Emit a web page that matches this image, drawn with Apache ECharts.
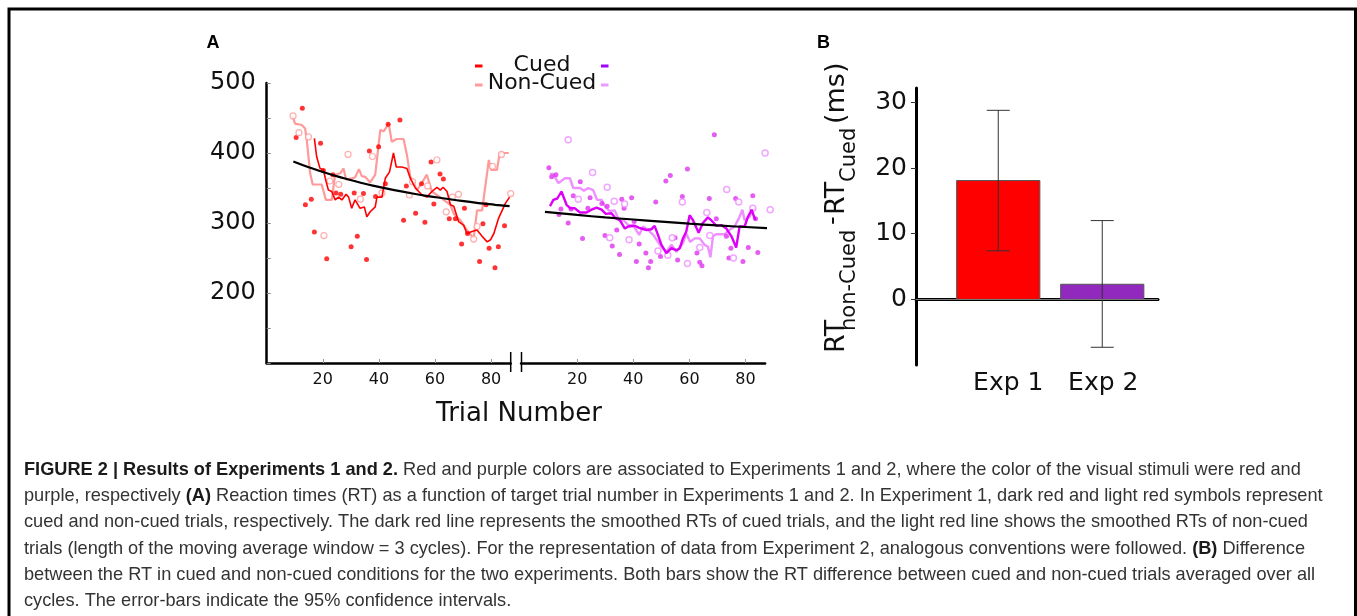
<!DOCTYPE html>
<html>
<head>
<meta charset="utf-8">
<script src="https://cdn.jsdelivr.net/npm/echarts@6/dist/echarts.min.js"></script>
<style>
html,body{margin:0;padding:0;background:#fff;}
#chart{width:1357px;height:616px;}
</style>
</head>
<body>
<div id="chart"></div>
<script>
// ---------- DATA ----------
// Panel A, Experiment 1 (trial number, RT in ms)
const exp1CuedDots = [[10.5,422],[12.7,464],[13.8,326],[15.9,334],[17,287],[19.2,414],[20.2,375],[21.4,249],[23.6,369],[24.7,343],[26.4,341],[30.1,266],[31.2,343],[32.3,281],[34.5,342],[35.6,248],[36.6,403],[38.8,338],[39.9,409],[42.3,356],[43.3,441],[47.5,447],[48.8,304],[49.8,353],[53.1,314],[55.2,356],[56.4,301],[58.6,387],[59.6,327],[61.8,370],[63,363],[65.1,306],[67.3,306],[69.5,270],[70.5,321],[71.6,285],[75.9,245],[77.1,299],[78.2,326],[79.3,264],[81.4,236],[82.6,266],[84.8,296]];
const exp1NonCuedDots = [[9.4,453],[11.5,429],[14.9,423],[20.4,282],[22.5,360],[25.7,355],[29,398],[33.4,334],[37.7,395],[41.1,343],[50.9,340],[52,359],[57.4,353],[60.7,390],[64,316],[66.2,337],[68.4,341],[73.8,277],[75,295],[80.5,381],[83.7,398],[87,342]];
const exp1CuedSmooth = [[17,421],[17.8,395],[19,378],[20.2,376],[21.2,359],[22,347],[23.2,345],[24.4,333],[25.6,337],[26.8,333],[28.3,341],[29.2,337],[30.3,321],[31.5,333],[33.3,321],[34.8,323],[35.7,309],[36.9,316],[38.7,323],[39.3,337],[41.1,337],[42.3,364],[43.8,373],[45.2,400],[46.2,380],[48.2,380],[50,378],[51.2,364],[53,350],[55.4,340],[57.1,337],[58.9,345],[60.7,351],[61.9,347],[62.9,351],[64.3,345],[65.5,326],[66.7,324],[68.4,302],[70.2,297],[71.4,285],[73.2,288],[75,290],[76.8,281],[78.6,273],[79.8,276],[81,285],[82.7,307],[85.1,328],[86.6,337]];
const exp1NonCuedSmooth = [[9.2,453],[10.1,442],[12.5,440],[13.7,435],[14.3,418],[15.5,371],[16.4,355],[19.6,355],[21.1,333],[23.2,333],[24.4,369],[26.2,371],[27.4,378],[28.3,362],[31.5,365],[32.9,377],[33.9,367],[35.1,366],[36.9,358],[38.7,369],[40.5,433],[41.7,431],[43.5,442],[44.6,416],[46.4,420],[48.8,420],[50,397],[51.2,366],[53.6,347],[54.8,354],[57.1,369],[58.9,345],[60.7,340],[63.1,333],[65.5,326],[66.7,313],[69,304],[71.4,290],[73.8,278],[75,318],[76.8,318],[79.2,390],[80,376],[82.1,376],[83.1,400],[86.3,400]];
const exp1Fit = [[9.5,388],[15.5,379],[21.5,371],[27.5,364],[33.5,357.5],[39.5,352],[45.5,347],[51.5,342.5],[57.5,338.5],[63.5,335],[69.5,331.5],[75.5,328.5],[81.5,326],[86.6,324]];

// Panel A, Experiment 2
const exp2CuedDots = [[9.9,379],[10.9,366],[12.4,369],[13.5,312],[14.2,320],[16.8,300],[17.8,320],[18.6,339],[21.1,359],[21.9,278],[23.8,321],[24.6,336],[28.8,328],[29.9,282],[30.7,324],[32.5,267],[34.1,290],[35.1,255],[35.9,334],[36.7,321],[39.4,336],[40.3,302],[41.1,245],[42.1,270],[44.5,257],[45.4,236],[46.2,245],[48,330],[49.7,252],[51.6,360],[53.2,368],[54.9,279],[55.8,247],[57.5,338],[59.3,377],[62.7,257],[63.7,244],[64.5,239],[67.1,335],[68.9,426],[69.6,306],[73.2,281],[74.1,250],[74.8,264],[76.5,335],[79.1,245],[81,265],[82.6,339],[83.6,306],[84.4,258]];
const exp2NonCuedDots = [[16.8,419],[20.4,334],[25.5,372],[30.7,351],[31.6,279],[33.2,331],[36.9,327],[38.5,276],[48.8,260],[52.3,254],[53.9,279],[57.5,330],[59.3,242],[63.7,265],[66.2,315],[67.3,282],[73.3,348],[75.7,250],[77.6,330],[82.6,321],[87,400],[88.8,319]];
const exp2CuedSmooth = [[10.3,324],[11.5,333],[12.9,335],[14.4,345],[16.2,326],[17.6,321],[19.2,321],[21,315],[23.3,315],[25.1,319],[26.9,322],[28.7,319],[30.2,313],[32.2,314],[33.6,307],[35.2,304],[37,292],[38.2,295],[40.6,296],[42.1,293],[44.7,290],[46.4,291],[47.6,296],[48.8,283],[50,269],[51.8,257],[53.6,264],[55.4,261],[56.6,264],[57.7,278],[58.9,288],[60.1,311],[61.3,304],[63.3,286],[64.8,300],[66.6,308],[67.8,304],[69.6,296],[71.4,297],[73.2,292],[75,281],[76.7,265],[77.9,295],[79.7,295],[80.9,309],[82.2,319],[83.3,306],[83.8,306]];
const exp2NonCuedSmooth = [[10.3,370],[11.5,370],[13.3,357],[15.6,364],[17.4,364],[18.6,350],[21,350],[22.4,346],[23.9,350],[25.7,347],[27.1,333],[28.7,333],[30.2,322],[31.6,317],[33.4,318],[34.9,304],[36.6,304],[38.2,297],[39.9,297],[42.1,283],[43.5,295],[45.3,290],[47.1,283],[48.3,276],[50,266],[51.8,259],[53.6,269],[55.4,259],[57.7,271],[58.9,285],[60.3,273],[61.9,278],[63.7,278],[65.4,269],[66.6,266],[67.5,251],[68.4,281],[69.6,284],[72.6,284],[74.3,290],[76.1,295],[77.7,307],[78.9,319],[79.7,304],[81.5,309],[82.6,320],[83.8,319]];
const exp2Fit = [[8.5,316],[20,311.5],[30,308],[40,305],[50,302],[60,299],[70,296.5],[80,294.3],[88,292.5]];

// Panel A axis ticks
const rtTickLabels = [200, 300, 400, 500];
const trialTickLabels = [20, 40, 60, 80];

// Panel B
const expLabels = ['Exp 1', 'Exp 2'];
const expPositions = [1, 2];
const diffMean = [18.1, 2.3];
const ciLow = [7.4, -7.3];
const ciHigh = [28.8, 12.0];
const diffTickLabels = [0, 10, 20, 30];

// ---------- STYLE ----------
const FONT = 'DejaVu Sans';
const CAP_FONT = 'Liberation Sans';
const red = '#ff0000', lightRed = '#ff9a9a';
const mag = '#dd00f6', lightMag = '#ee90ff';
const barColors = ['#ff0000', '#9129be'];

const chart = echarts.init(document.getElementById('chart'), null, {renderer: 'canvas'});

function trialAxis(gi) {
  return {
    type: 'value', gridIndex: gi, min: 0, max: 87, interval: 20,
    axisLine: {show: true, lineStyle: {color: '#000', width: 2.5}},
    axisTick: {show: true, inside: true, length: 4, lineStyle: {color: '#999', width: 1}},
    axisLabel: {
      show: true, fontFamily: FONT, fontSize: 16, color: '#111', margin: 9,
      showMinLabel: false, showMaxLabel: false,
      formatter: v => trialTickLabels.includes(v) ? String(v) : ''
    },
    splitLine: {show: false}
  };
}

const option = {
  animation: false,
  backgroundColor: '#fff',
  grid: [
    {left: 266.7, top: 83, width: 244, height: 280, outerBoundsMode: 'none'},
    {left: 521.1, top: 83, width: 244, height: 280, outerBoundsMode: 'none'},
    {left: 916, top: 88, width: 242, height: 277, outerBoundsMode: 'none'}
  ],
  xAxis: [
    trialAxis(0),
    trialAxis(1),
    {
      type: 'value', gridIndex: 2, min: 0.209, max: 2.536,
      axisLine: {show: true, lineStyle: {color: '#000', width: 3}},
      axisTick: {show: false},
      splitLine: {show: false},
      axisLabel: {
        show: true, customValues: expPositions, color: '#111', margin: 6,
        formatter: v => { const i = expPositions.indexOf(v); return i === 0 ? '{a|' + expLabels[0] + '}' : (i === 1 ? '{b|' + expLabels[1] + '}' : ''); },
        rich: {
          a: {fontFamily: FONT, fontSize: 25, color: '#111', padding: [0, 0, 0, 20]},
          b: {fontFamily: FONT, fontSize: 25, color: '#111', padding: [0, 0, 0, 2]}
        }
      }
    }
  ],
  yAxis: [
    {
      type: 'value', gridIndex: 0, min: 100, max: 500, interval: 50,
      axisLine: {show: true, lineStyle: {color: '#000', width: 2.5}},
      axisTick: {show: true, inside: true, length: 4, lineStyle: {color: '#888', width: 1}},
      axisLabel: {
        fontFamily: FONT, fontSize: 24, color: '#111', margin: 11,
        formatter: v => rtTickLabels.includes(v) ? String(v) : ''
      },
      splitLine: {show: false}
    },
    {type: 'value', gridIndex: 1, min: 100, max: 500, show: false},
    {
      type: 'value', gridIndex: 2, min: -10, max: 32.2, interval: 10,
      axisLine: {show: true, lineStyle: {color: '#000', width: 3}},
      axisTick: {show: true, customValues: diffTickLabels, length: 5, lineStyle: {color: '#333', width: 1}},
      axisLabel: {
        customValues: diffTickLabels, fontFamily: FONT, fontSize: 25, color: '#111', margin: 9,
        formatter: v => String(v)
      },
      splitLine: {show: false}
    }
  ],
  series: [
    // Exp 1
    {type: 'scatter', xAxisIndex: 0, yAxisIndex: 0, data: exp1CuedDots, symbol: 'circle', symbolSize: 5,
      itemStyle: {color: red}, clip: false, z: 3},
    {type: 'scatter', xAxisIndex: 0, yAxisIndex: 0, data: exp1NonCuedDots, symbol: 'circle', symbolSize: 6,
      itemStyle: {color: '#fff', borderColor: lightRed, borderWidth: 1.2}, clip: false, z: 3},
    {type: 'line', xAxisIndex: 0, yAxisIndex: 0, data: exp1NonCuedSmooth, showSymbol: false, symbol: 'none',
      lineStyle: {color: lightRed, width: 2.2}, clip: false, z: 2},
    {type: 'line', xAxisIndex: 0, yAxisIndex: 0, data: exp1CuedSmooth, showSymbol: false, symbol: 'none',
      lineStyle: {color: red, width: 1.6}, clip: false, z: 4},
    {type: 'line', xAxisIndex: 0, yAxisIndex: 0, data: exp1Fit, showSymbol: false, symbol: 'none', smooth: true,
      lineStyle: {color: '#000', width: 2.2}, clip: false, z: 5},
    // Exp 2
    {type: 'scatter', xAxisIndex: 1, yAxisIndex: 1, data: exp2CuedDots, symbol: 'circle', symbolSize: 5,
      itemStyle: {color: '#dd33ee'}, clip: false, z: 3},
    {type: 'scatter', xAxisIndex: 1, yAxisIndex: 1, data: exp2NonCuedDots, symbol: 'circle', symbolSize: 6,
      itemStyle: {color: '#fff', borderColor: lightMag, borderWidth: 1.5}, clip: false, z: 3},
    {type: 'line', xAxisIndex: 1, yAxisIndex: 1, data: exp2NonCuedSmooth, showSymbol: false, symbol: 'none',
      lineStyle: {color: lightMag, width: 2.4}, clip: false, z: 2},
    {type: 'line', xAxisIndex: 1, yAxisIndex: 1, data: exp2CuedSmooth, showSymbol: false, symbol: 'none',
      lineStyle: {color: mag, width: 2.4}, clip: false, z: 4},
    {type: 'line', xAxisIndex: 1, yAxisIndex: 1, data: exp2Fit, showSymbol: false, symbol: 'none', smooth: true,
      lineStyle: {color: '#000', width: 2.2}, clip: false, z: 5},
    // Panel B bars with CI
    {
      type: 'custom', xAxisIndex: 2, yAxisIndex: 2,
      data: expPositions.map((p, i) => [p, diffMean[i], ciLow[i], ciHigh[i]]),
      encode: {x: 0, y: 1},
      clip: false,
      renderItem: function (params, api) {
        const x = api.value(0), v = api.value(1), lo = api.value(2), hi = api.value(3);
        const base = api.coord([x, 0]);
        const top = api.coord([x, v]);
        const bw = api.size([0.8, 0])[0];
        const pLo = api.coord([x, lo]);
        const pHi = api.coord([x, hi]);
        const cap = 11.5;
        return {
          type: 'group',
          children: [
            {type: 'rect', shape: {x: base[0] - bw / 2, y: top[1], width: bw, height: base[1] - top[1]},
              style: {fill: barColors[params.dataIndex], stroke: '#555', lineWidth: 1}},
            {type: 'line', shape: {x1: pLo[0], y1: pLo[1], x2: pHi[0], y2: pHi[1]}, style: {stroke: '#333', lineWidth: 1}},
            {type: 'line', shape: {x1: pLo[0] - cap, y1: pLo[1], x2: pLo[0] + cap, y2: pLo[1]}, style: {stroke: '#333', lineWidth: 1}},
            {type: 'line', shape: {x1: pHi[0] - cap, y1: pHi[1], x2: pHi[0] + cap, y2: pHi[1]}, style: {stroke: '#333', lineWidth: 1}}
          ]
        };
      },
      markLine: {
        silent: true, symbol: 'none', label: {show: false},
        lineStyle: {color: '#777', width: 1.2, type: 'solid'},
        data: [{yAxis: 0}]
      },
      z: 3
    }
  ],
  graphic: []
};

chart.setOption(option);

// ---------- decorations (labels, legend, axis break, caption, frame) ----------
const g = [];
// frame
g.push({type: 'rect', shape: {x: 9, y: 9, width: 1346.5, height: 700}, style: {fill: 'none', stroke: '#000', lineWidth: 3}, z: 10});
// panel letters
g.push({type: 'text', x: 213, y: 43, style: {text: 'A', font: 'bold 18px ' + CAP_FONT, fill: '#000', textAlign: 'center', textVerticalAlign: 'middle'}});
g.push({type: 'text', x: 823.5, y: 43, style: {text: 'B', font: 'bold 18px ' + CAP_FONT, fill: '#000', textAlign: 'center', textVerticalAlign: 'middle'}});
// axis break marks
g.push({type: 'line', shape: {x1: 510.7, y1: 352, x2: 510.7, y2: 372}, style: {stroke: '#000', lineWidth: 1.5}});
g.push({type: 'line', shape: {x1: 521.5, y1: 352, x2: 521.5, y2: 372}, style: {stroke: '#000', lineWidth: 1.5}});
// x axis title panel A
g.push({type: 'text', x: 519, y: 414, style: {text: 'Trial Number', font: '26px ' + FONT, fill: '#111', textAlign: 'center', textVerticalAlign: 'middle'}});
// legend panel A
g.push({type: 'rect', shape: {x: 475, y: 64.5, width: 7.5, height: 3}, style: {fill: red}});
g.push({type: 'rect', shape: {x: 601, y: 64.5, width: 7.5, height: 3}, style: {fill: '#a200ff'}});
g.push({type: 'rect', shape: {x: 475, y: 83.5, width: 7.5, height: 3}, style: {fill: lightRed}});
g.push({type: 'rect', shape: {x: 601, y: 83.5, width: 7.5, height: 3}, style: {fill: '#e89cff'}});
g.push({type: 'text', x: 542, y: 65, style: {text: 'Cued', font: '22px ' + FONT, fill: '#111', textAlign: 'center', textVerticalAlign: 'middle'}});
g.push({type: 'text', x: 542, y: 83, style: {text: 'Non-Cued', font: '22px ' + FONT, fill: '#111', textAlign: 'center', textVerticalAlign: 'middle'}});
// panel B y axis title (rotated, with subscripts)
const yTitle = [
  {t: 'RT', y: 353, x: 837, s: 27},
  {t: 'non-Cued', y: 331, x: 850, s: 21},
  {t: '-', y: 225, x: 834, s: 24},
  {t: 'RT', y: 215, x: 837, s: 27},
  {t: 'Cued', y: 182, x: 850, s: 21},
  {t: '(ms)', y: 124, x: 837, s: 27}
];
yTitle.forEach(p => g.push({type: 'text', x: p.x, y: p.y, rotation: Math.PI / 2,
  style: {text: p.t, font: p.s + 'px ' + FONT, fill: '#111', textAlign: 'left', textVerticalAlign: 'middle'}}));
// caption
const capLines = [
  '{b|FIGURE 2 | Results of Experiments 1 and 2.}{n| Red and purple colors are associated to Experiments 1 and 2, where the color of the visual stimuli were red and}',
  '{n|purple, respectively }{b|(A)}{n| Reaction times (RT) as a function of target trial number in Experiments 1 and 2. In Experiment 1, dark red and light red symbols represent}',
  '{n|cued and non-cued trials, respectively. The dark red line represents the smoothed RTs of cued trials, and the light red line shows the smoothed RTs of non-cued}',
  '{n|trials (length of the moving average window = 3 cycles). For the representation of data from Experiment 2, analogous conventions were followed. }{b|(B)}{n| Difference}',
  '{n|between the RT in cued and non-cued conditions for the two experiments. Both bars show the RT difference between cued and non-cued trials averaged over all}',
  '{n|cycles. The error-bars indicate the 95% confidence intervals.}'
];
capLines.forEach((t, i) => g.push({type: 'text', x: 24, y: 470 + i * 26.2,
  style: {text: t, textAlign: 'left', textVerticalAlign: 'middle',
    rich: {
      b: {fontFamily: CAP_FONT, fontSize: 18.2, fontWeight: 'bold', fill: '#1a1a1a', color: '#1a1a1a'},
      n: {fontFamily: CAP_FONT, fontSize: 18.2, fill: '#333', color: '#333'}
    }}}));

chart.setOption({graphic: g});
</script>
</body>
</html>
